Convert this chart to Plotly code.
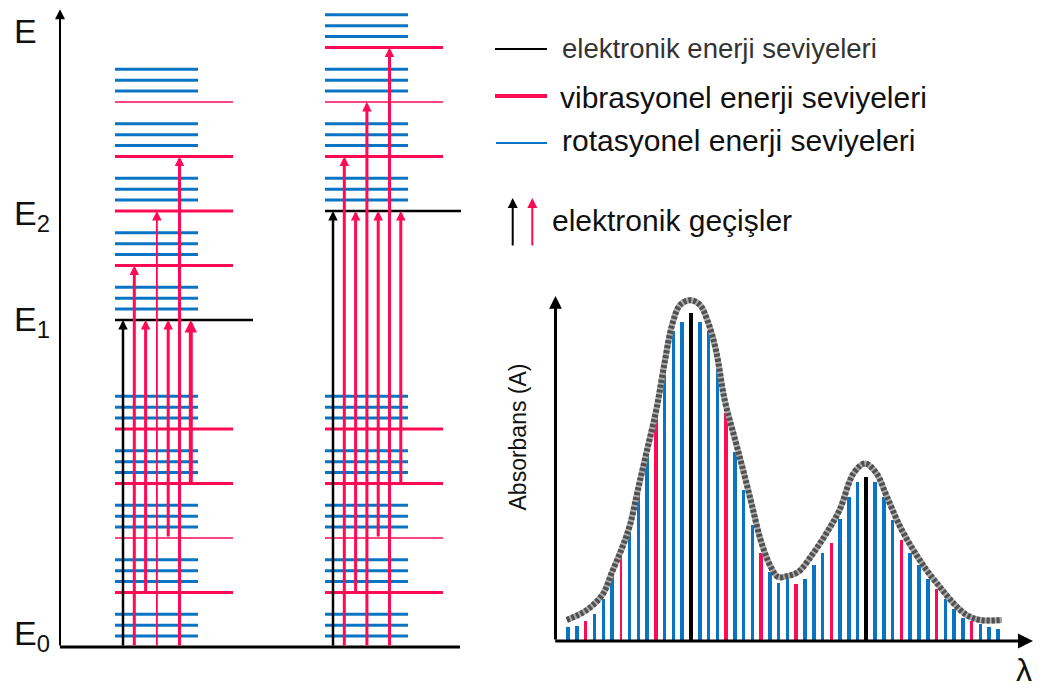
import plotly.graph_objects as go

# page is rendered with an 8px body margin: figure occupies page pixels 8..1043 x 8..691
PAGE_W, PAGE_H = 1043, 691
OFF = 8
W, H = PAGE_W - OFF, PAGE_H - OFF
RED = "#FF0A54"
BLUE = "#0A74C4"
BLACK = "#000000"
FONT = "Liberation Sans, Arial, sans-serif"

# ---------------- energy-level diagram data (energy unit = one vibrational quantum) ----------------
E0, E1, E2 = 0.0, 6.0, 8.0
E_AXIS_TOP = 11.7
VIB_V_E0 = [0, 1, 2, 3, 4]
VIB_V_E1 = [0, 1, 2, 3, 4]
VIB_V_E2 = [0, 1, 2, 3]
ROT_OFFSETS = [0.2, 0.4, 0.6]
THIN_V_E0 = [2]
THIN_V_E1 = [4]
THIN_V_E2 = [2]
# transitions: lower-state vibrational level -> upper-state vibrational level
TRANS_LOWER_V = [0, 0, 1, 0, 2, 0, 3]
TRANS_UPPER_V = [0, 1, 0, 2, 0, 3, 0]
TRANS_WIDTH_LEFT = [2.5, 3, 3, 1.8, 3, 3, 4]
TRANS_WIDTH_RIGHT = [2.5, 3, 3, 3, 3, 3, 3]

# ---------------- absorption spectrum data ----------------
BAR_INDEX = list(range(1, 51))
ABSORBANCE = [4.1, 4.6, 6.1, 8.1, 12.7, 21.1, 26.2, 34.9, 45.7, 57.7,
              69.5, 84.9, 94.4, 97.4, 100.0, 97.4, 94.4, 84.5, 69.5, 57.7,
              45.9, 35.4, 26.8, 21.1, 17.6, 19.1, 17.4, 18.9, 23.2, 26.8,
              29.8, 37.1, 43.9, 48.4, 50.0, 48.4, 43.9, 36.9, 30.8, 26.8,
              23.1, 19.0, 15.9, 12.7, 9.7, 7.1, 5.9, 5.1, 4.1, 3.6]
VIB_BARS = [3, 7, 11, 19, 23, 27, 31, 39, 43, 47]
EL_BARS = [15, 35]
THIN_BARS = [7, 8]
ENV_X = [0.9, 3.2, 5.0, 6.05, 7.2, 8.1, 9.0, 10.0, 11.1, 12.0, 12.9, 13.8, 15.0,
         16.1, 17.0, 17.9, 18.9, 20.0, 21.0, 22.0, 23.0, 24.1, 25.0, 26.0, 27.3,
         29.0, 30.5, 32.0, 33.6, 34.9, 36.2, 37.4, 38.9, 40.4, 41.9, 43.4, 45.0,
         46.5, 48.0, 50.5]
ENV_Y = [6.4, 9.5, 14.3, 21.0, 28.4, 35.4, 46.1, 57.7, 70.5, 84.2, 96.4, 102.5, 104.0,
         102.5, 97.3, 88.8, 73.5, 62.3, 52.2, 41.5, 30.8, 22.9, 19.5, 19.8, 21.1,
         26.8, 32.9, 40.0, 51.2, 54.2, 51.2, 44.0, 34.9, 27.8, 21.7, 16.6, 11.5,
         7.9, 6.4, 6.4]

# ---------------- layout constants (page pixels) ----------------
AXIS_X = 60
BASE_X_END = 460
COL_X0 = [115, 325]
ROT_LEN = 83
VIB_LEN = 118
EL_LEN = [138, 136]
ARROW_X0 = 8
ARROW_DX = 11.3
E_PX0, E_PX_PER_UNIT = 647, 54.5          # energy axis placement
SP_X0, SP_DX = 567.7, 8.77                # spectrum bar placement
SP_Y0, SP_DY = 641, 3.277                 # spectrum value placement


def px(x):
    return (x - OFF) / W


def py(y):
    return 1 - (y - OFF) / H


fig = go.Figure()


def add_segments(x0, x1, ys, color, width):
    xs, yy = [], []
    for y in ys:
        xs += [x0, x1, None]
        yy += [y, y, None]
    fig.add_trace(go.Scatter(x=xs, y=yy, mode="lines", line=dict(color=color, width=width),
                             hoverinfo="skip", showlegend=False, xaxis="x", yaxis="y"))


annotations = []

columns = [(E1, VIB_V_E1, THIN_V_E1, TRANS_WIDTH_LEFT),
           (E2, VIB_V_E2, THIN_V_E2, TRANS_WIDTH_RIGHT)]

for c, (e_up, vib_up, thin_up, twidths) in enumerate(columns):
    x0 = COL_X0[c]
    for base, vs, thin in [(E0, VIB_V_E0, THIN_V_E0), (e_up, vib_up, thin_up)]:
        rot = [base + v + r for v in vs for r in ROT_OFFSETS]
        add_segments(x0, x0 + ROT_LEN, rot, BLUE, 3)
        thick_vib = [base + v for v in vs if v > 0 and v not in thin]
        thin_vib = [base + v for v in vs if v in thin]
        add_segments(x0, x0 + VIB_LEN, thick_vib, RED, 3)
        add_segments(x0, x0 + VIB_LEN, thin_vib, RED, 1.5)
    add_segments(x0, x0 + EL_LEN[c], [e_up], BLACK, 2.5)
    for k in range(len(TRANS_LOWER_V)):
        xa = x0 + ARROW_X0 + ARROW_DX * k
        col = BLACK if k == 0 else RED
        w = twidths[k]
        annotations.append(dict(x=xa, y=e_up + TRANS_UPPER_V[k], ax=xa, ay=E0 + TRANS_LOWER_V[k],
                                xref="x", yref="y", axref="x", ayref="y", text="",
                                showarrow=True, arrowhead=2, arrowsize=max(0.62, 1.9 / w),
                                arrowwidth=w, arrowcolor=col, standoff=0))

# ground-state baseline
add_segments(AXIS_X, BASE_X_END, [E0], BLACK, 3)
# energy axis with arrow
annotations.append(dict(x=AXIS_X, y=E_AXIS_TOP, ax=AXIS_X, ay=E0, xref="x", yref="y",
                        axref="x", ayref="y", text="", showarrow=True, arrowhead=2,
                        arrowsize=1.0, arrowwidth=2, arrowcolor=BLACK, standoff=0))

# energy labels
for lvl, txt, sh in [(E_AXIS_TOP, "E", -22),
                     (E2, "E<sub>2</sub>", -4),
                     (E1, "E<sub>1</sub>", -1.5),
                     (E0, "E<sub>0</sub>", 11.5)]:
    annotations.append(dict(x=px(12), y=lvl, xref="paper", yref="y", text=txt,
                            showarrow=False, xanchor="left", yanchor="middle", yshift=sh,
                            font=dict(family=FONT, size=34, color="#111")))

# ---------------- spectrum ----------------
bar_colors = []
bar_widths = []
for i in BAR_INDEX:
    if i in EL_BARS:
        bar_colors.append(BLACK)
        bar_widths.append(0.48)
    elif i in VIB_BARS:
        bar_colors.append(RED)
        bar_widths.append(0.25 if i in THIN_BARS else 0.4)
    else:
        bar_colors.append(BLUE)
        bar_widths.append(0.25 if i in THIN_BARS else 0.4)

fig.add_trace(go.Bar(x=BAR_INDEX, y=ABSORBANCE, width=bar_widths,
                     marker=dict(color=bar_colors, line=dict(width=0)),
                     xaxis="x2", yaxis="y2", hoverinfo="skip", showlegend=False))
fig.add_trace(go.Scatter(x=ENV_X, y=ENV_Y, mode="lines",
                         line=dict(color="#a8a8a8", width=6, shape="spline", smoothing=1),
                         xaxis="x2", yaxis="y2", hoverinfo="skip", showlegend=False))
fig.add_trace(go.Scatter(x=ENV_X, y=ENV_Y, mode="lines",
                         line=dict(color="#505050", width=6, shape="spline", smoothing=1, dash="3px,2px"),
                         xaxis="x2", yaxis="y2", hoverinfo="skip", showlegend=False))

X2_DOMAIN = [0.5, 1.0]
Y2_DOMAIN = [0.0, 0.6]


def sp_x(p):  # page px -> bar index
    return 1 + (p - SP_X0) / SP_DX


def sp_y(p):  # page py -> absorbance
    return (SP_Y0 - p) / SP_DY


X2_RANGE = [sp_x(OFF + X2_DOMAIN[0] * W), sp_x(OFF + X2_DOMAIN[1] * W)]
Y2_RANGE = [sp_y(PAGE_H - Y2_DOMAIN[0] * H), sp_y(PAGE_H - Y2_DOMAIN[1] * H)]
X_AX_START = sp_x(555.5)
X_AX_END = sp_x(1033)
Y_AX_TOP = sp_y(296)

annotations.append(dict(x=X_AX_END, y=0, ax=X_AX_START - 0.2, ay=0, xref="x2", yref="y2",
                        axref="x2", ayref="y2", text="", showarrow=True, arrowhead=2,
                        arrowsize=1.0, arrowwidth=3, arrowcolor=BLACK, standoff=0))
annotations.append(dict(x=X_AX_START, y=Y_AX_TOP, ax=X_AX_START, ay=0, xref="x2", yref="y2",
                        axref="x2", ayref="y2", text="", showarrow=True, arrowhead=2,
                        arrowsize=0.85, arrowwidth=3, arrowcolor=BLACK, standoff=0))
annotations.append(dict(x=px(517), y=py(437.5), xref="paper", yref="paper", text="Absorbans (A)",
                        showarrow=False, textangle=-90, xanchor="center", yanchor="middle",
                        font=dict(family=FONT, size=23, color="#111")))
annotations.append(dict(x=px(1024), y=py(670), xref="paper", yref="paper", text="λ",
                        showarrow=False, xanchor="center", yanchor="middle",
                        font=dict(family=FONT, size=32, color="#111")))

# ---------------- key ----------------
shapes = [
    dict(type="line", xref="paper", yref="paper", x0=px(495), x1=px(547), y0=py(49), y1=py(49),
         line=dict(color=BLACK, width=2.2)),
    dict(type="line", xref="paper", yref="paper", x0=px(495), x1=px(547), y0=py(96), y1=py(96),
         line=dict(color=RED, width=4)),
    dict(type="line", xref="paper", yref="paper", x0=px(496), x1=px(547), y0=py(143), y1=py(143),
         line=dict(color=BLUE, width=2.2)),
]
key_texts = [("elektronik enerji seviyeleri", 560, 48, 27.5, "#333"),
             ("vibrasyonel enerji seviyeleri", 558, 97, 30, "#111"),
             ("rotasyonel enerji seviyeleri", 560, 140, 30, "#111"),
             ("elektronik geçişler", 550, 220, 30, "#111")]
for t, x, y, s, c in key_texts:
    annotations.append(dict(x=px(x), y=py(y), xref="paper", yref="paper", text=t, showarrow=False,
                            xanchor="left", yanchor="middle", font=dict(family=FONT, size=s, color=c)))
for xa, col in [(512.7, BLACK), (532.3, RED)]:
    annotations.append(dict(x=px(xa), y=py(198), ax=0, ay=49, xref="paper", yref="paper",
                            axref="pixel", ayref="pixel", text="", showarrow=True, arrowhead=2,
                            arrowsize=1.0, arrowwidth=2, arrowcolor=col, standoff=0))

hidden = dict(visible=False, showgrid=False, zeroline=False, fixedrange=True)
fig.update_layout(
    width=W, height=H, margin=dict(l=0, r=0, t=0, b=0),
    paper_bgcolor="white", plot_bgcolor="rgba(0,0,0,0)", showlegend=False,
    xaxis=dict(domain=[0, 1], range=[OFF, PAGE_W], **hidden),
    yaxis=dict(domain=[0, 1], range=[(E_PX0 - PAGE_H) / E_PX_PER_UNIT, (E_PX0 - OFF) / E_PX_PER_UNIT],
               **hidden),
    xaxis2=dict(domain=X2_DOMAIN, range=X2_RANGE, anchor="y2", **hidden),
    yaxis2=dict(domain=Y2_DOMAIN, range=Y2_RANGE, anchor="x2", **hidden),
    annotations=annotations, shapes=shapes, bargap=0,
)

fig.write_html("out.html")
